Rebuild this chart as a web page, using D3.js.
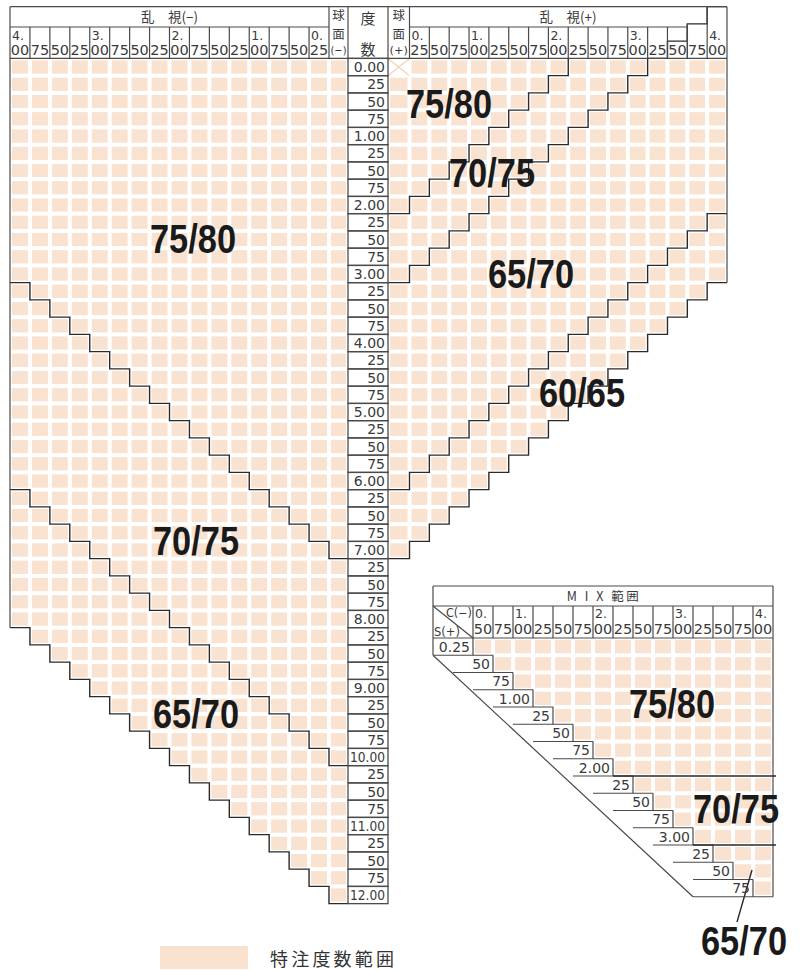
<!DOCTYPE html>
<html><head><meta charset="utf-8">
<script src="https://cdn.jsdelivr.net/npm/d3@7"></script>
<style>body{margin:0;background:#fff}svg{display:block}</style>
</head><body>
<svg id="c" width="804" height="970"></svg>
<script>
// ---------------- DATA ----------------
const sphValues = [0,0.25,0.5,0.75,1,1.25,1.5,1.75,2,2.25,2.5,2.75,3,3.25,3.5,3.75,4,4.25,4.5,4.75,5,5.25,5.5,5.75,6,6.25,6.5,6.75,7,7.25,7.5,7.75,8,8.25,8.5,8.75,9,9.25,9.5,9.75,10,10.25,10.5,10.75,11,11.25,11.5,11.75,12];
const sphLabels = ["0.00","25","50","75","1.00","25","50","75","2.00","25","50","75","3.00","25","50","75","4.00","25","50","75","5.00","25","50","75","6.00","25","50","75","7.00","25","50","75","8.00","25","50","75","9.00","25","50","75","10.00","25","50","75","11.00","25","50","75","12.00"];
const leftCylValues = [4,3.75,3.5,3.25,3,2.75,2.5,2.25,2,1.75,1.5,1.25,1,0.75,0.5,0.25];
const leftCylLabels = ["4.00","75","50","25","3.00","75","50","25","2.00","75","50","25","1.00","75","50","0.25"];
const rightCylValues = [0.25,0.5,0.75,1,1.25,1.5,1.75,2,2.25,2.5,2.75,3,3.25,3.5,3.75,4];
const rightCylLabels = ["0.25","50","75","1.00","25","50","75","2.00","25","50","75","3.00","25","50","75","4.00"];
const leftZoneNames = ["75/80","70/75","65/70"];
const leftZoneMaxTotal = [7.00,10.00,12.00];     // |S|+|C| limit (minus cyl)
const rightZoneNames = ["75/80","70/75","65/70","60/65"];
const rightZoneMaxTotal = [2.00,3.00,6.00,7.00]; // S+C limit (plus cyl)
const rightZoneHeaderExt = [false,true,false,false];
const mixCValues = [0.5,0.75,1,1.25,1.5,1.75,2,2.25,2.5,2.75,3,3.25,3.5,3.75,4];
const mixCLabels = ["0.50","75","1.00","25","50","75","2.00","25","50","75","3.00","25","50","75","4.00"];
const mixSValues = [0.25,0.5,0.75,1,1.25,1.5,1.75,2,2.25,2.5,2.75,3,3.25,3.5,3.75];
const mixSLabels = ["0.25","50","75","1.00","25","50","75","2.00","25","50","75","3.00","25","50","75"];
const mixZoneNames = ["75/80","70/75","65/70"];
const mixZoneMaxS = [2.00,3.00,3.75];
const legendLabel = "特注度数範囲";

// ---------------- LAYOUT ----------------
const svg = d3.select("#c");
const FILL = "#f9e2cf", LINE = "#4a4a4a", STAIR = "#2a2a2a";
const NUMFONT = "'DejaVu Sans', sans-serif";
const JPFONT = "'Noto Sans CJK JP', sans-serif";
const BIGFONT = "'Liberation Sans', Arial, sans-serif";
const rowH = 17.25, gridTop = 58.4;
const headTop = gridTop - 3*rowH, headMid = 27;
const y = d3.scaleLinear().domain([0, 12.25]).range([gridTop, gridTop + 49*rowH]);
const xLc = d3.scaleLinear().domain([0,16]).range([10,329]);
const xRc = d3.scaleLinear().domain([0,16]).range([409.5,727]);
const dosuX0 = 348, dosuX1 = 388;

const leftCols = leftCylValues.map((c,i)=>({cyl:c, x0:xLc(i), x1:xLc(i+1), label:leftCylLabels[i]}))
  .concat([{cyl:0, x0:329, x1:dosuX0, sph:true}]);
const rightCols = [{cyl:0, x0:dosuX1, x1:409.5, sph:true}]
  .concat(rightCylValues.map((c,i)=>({cyl:c, x0:xRc(i), x1:xRc(i+1), label:rightCylLabels[i]})));

const gCells = svg.append("g");
const gLines = svg.append("g").attr("fill","none");
const gText = svg.append("g");

function cell(x0,x1,y0,y1){
  gCells.append("rect").attr("x",x0+2).attr("y",y0+2)
    .attr("width",x1-x0-4).attr("height",y1-y0-4).attr("fill",FILL);
}
function line(x1,y1,x2,y2,col,w){
  gLines.append("line").attr("x1",x1).attr("y1",y1).attr("x2",x2).attr("y2",y2)
    .attr("stroke",col||LINE).attr("stroke-width",w||1.2);
}

// ---- cells
sphValues.forEach(s=>{
  leftCols.forEach(c=>{
    if (s + c.cyl <= leftZoneMaxTotal[leftZoneMaxTotal.length-1]) cell(c.x0,c.x1,y(s),y(s+0.25));
  });
  rightCols.forEach(c=>{
    if (s + c.cyl <= rightZoneMaxTotal[rightZoneMaxTotal.length-1]) {
      if (s===0 && c.cyl===0) {
        line(c.x0+0.5,y(0)+0.5,c.x1-0.5,y(0.25)-0.5,"#f5d3b8",1.3);
        line(c.x1-0.5,y(0)+0.5,c.x0+0.5,y(0.25)-0.5,"#f5d3b8",1.3);
      } else cell(c.x0,c.x1,y(s),y(s+0.25));
    }
  });
});

// ---- stair path helper
function stair(cols, bottom, tail){
  let d = `M${cols[0].x0},${bottom(cols[0])}`;
  cols.forEach((c,i)=>{ if(i>0) d += `V${bottom(c)}`; d += `H${c.x1}`; });
  if (tail !== undefined) d += `V${tail}`;
  gLines.append("path").attr("d",d).attr("stroke",STAIR).attr("stroke-width",1.4);
}
leftZoneMaxTotal.forEach(T=>{
  stair(leftCols, c=>y(T - c.cyl + 0.25));
});
rightZoneMaxTotal.forEach((T,k)=>{
  const cols = rightCols.filter(c=> rightZoneHeaderExt[k] ? true : (T - c.cyl >= 0));
  const last = cols[cols.length-1];
  const tail = last.cyl < 4 ? y(T - (last.cyl+0.25) + 0.25) : undefined;
  stair(cols, c=>y(T - c.cyl + 0.25), tail);
});

// ---- table frame
line(10,headTop,727,headTop);
line(10,gridTop,727,gridTop);
line(10,headTop,10,y(leftZoneMaxTotal[2]-4+0.25));
line(727,headTop,727,y(rightZoneMaxTotal[3]-4+0.25));
line(10,headMid,329,headMid);
line(409.5,headMid,xRc(14),headMid);
[329,409.5].forEach(x=>line(x,headTop,x,gridTop));
line(xRc(15),headTop,xRc(15),gridTop);
for(let i=1;i<16;i++){ line(xLc(i),headMid,xLc(i),gridTop); }
for(let i=1;i<15;i++){ line(xRc(i),headMid,xRc(i),gridTop); }
line(xRc(14),y(-0.5),xRc(14),gridTop);
// 度数 column
sphValues.forEach((s,i)=>{
  gLines.append("rect").attr("x",dosuX0).attr("y",y(s)).attr("width",dosuX1-dosuX0)
    .attr("height",rowH).attr("stroke",LINE).attr("stroke-width",1.3);
  const t = gText.append("text").attr("x",dosuX1-3).attr("y",y(s)+rowH-3.5)
    .attr("text-anchor","end").attr("font-family",NUMFONT).attr("font-size",14)
    .attr("fill","#3a3a3a").text(sphLabels[i]);
  if (sphLabels[i].length>4) t.attr("textLength",35).attr("lengthAdjust","spacingAndGlyphs");
});
line(dosuX0,headTop,dosuX0,gridTop); line(dosuX1,headTop,dosuX1,gridTop);

// ---- header texts
const HS = 12.5;
function numHead(label,x0,x1,topY,botY){
  const p = label.indexOf(".");
  const bottom = p>=0 ? label.slice(p+1) : label;
  if (p>=0){
    gText.append("text").attr("x",x0+2).attr("y",topY).attr("font-family",NUMFONT)
      .attr("font-size",HS).attr("fill","#3a3a3a").text(label.slice(0,p+1));
  }
  gText.append("text").attr("x",(x0+x1)/2).attr("y",botY).attr("text-anchor","middle")
    .attr("font-family",NUMFONT).attr("font-size",HS+1).attr("fill","#3a3a3a")
    .attr("textLength",x1-x0-1.5).attr("lengthAdjust","spacingAndGlyphs").text(bottom);
}
leftCols.filter(c=>!c.sph).forEach(c=>numHead(c.label,c.x0,c.x1,39.5,55));
rightCols.filter(c=>!c.sph).forEach(c=>numHead(c.label,c.x0,c.x1,39.5,55));
function jp(txt,x,yy,size,anchor){
  return gText.append("text").attr("x",x).attr("y",yy).attr("text-anchor",anchor||"middle")
    .attr("font-family",JPFONT).attr("font-size",size).attr("fill","#3a3a3a").text(txt);
}
jp("乱　視(−)",169.5,21.5,13.5);
jp("乱　視(+)",568,21.5,13.5);
[[329,348,"(−)"],[388,409.5,"(+)"]].forEach(([a,b,s])=>{
  jp("球",(a+b)/2,20.3,12.5); jp("面",(a+b)/2,38.6,12.5);
  jp(s,(a+b)/2,53.5,11).attr("font-family",NUMFONT).attr("textLength",b-a-3).attr("lengthAdjust","spacingAndGlyphs");
});
jp("度",368,24,15); jp("数",368,55,15);

// ---- big zone labels
function big(txt,cx,by){
  gText.append("text").attr("transform",`translate(${cx},${by}) scale(0.86,1)`)
    .attr("text-anchor","middle").attr("font-family",BIGFONT).attr("font-weight","bold")
    .attr("font-size",40).attr("fill","#1a1a1a").text(txt);
}
const leftLabelPos = [[193,253],[196,555],[196,728]];
leftZoneNames.forEach((n,i)=>big(n,...leftLabelPos[i]));
const rightLabelPos = [[449,118],[492,187],[531,288],[582,407]];
rightZoneNames.forEach((n,i)=>big(n,...rightLabelPos[i]));

// ---------------- MIX ----------------
const mx = d3.scaleLinear().domain([0,15]).range([473,773]);
const my = d3.scaleLinear().domain([0,15]).range([638,638+15*rowH]);
const mixL = 433, mixTop = 586, mixMid = 606;
mixSValues.forEach((s,i)=>{
  mixCValues.forEach((c,j)=>{ if (c - s >= 0.25) cell(mx(j),mx(j+1),my(i),my(i+1)); });
});
line(mixL,mixTop,773,mixTop);
line(mixL,mixMid,773,mixMid);
line(mixL,my(0),773,my(0));
line(mixL,mixTop,mixL,my(1));
line(773,mixTop,773,my(15));
line(mixL,mixMid,mx(0),my(0));
for(let j=0;j<15;j++) line(mx(j),mixMid,mx(j),my(0));
mixSLabels.forEach((lab,i)=>{
  line(mx(i),my(i),mx(i),my(i+1));
  if (i>0) line(mx(i)-60,my(i),mx(i),my(i));
  gText.append("text").attr("x",mx(i)-3).attr("y",my(i)+rowH-3.5).attr("text-anchor","end")
    .attr("font-family",NUMFONT).attr("font-size",14).attr("fill","#3a3a3a").text(lab);
});
line(mixL,my(1),mx(14)-60,my(15));
line(mx(14)-60,my(15),773,my(15));
mixZoneMaxS.slice(0,2).forEach(S=>{
  const i = mixSValues.indexOf(S);
  line(mx(i),my(i+1),776,my(i+1),STAIR,1.4);
});
mixCLabels.forEach((lab,j)=>numHead(lab,mx(j),mx(j+1),618,634));
gText.append("text").attr("x",604).attr("y",600.5).attr("text-anchor","middle")
  .attr("font-family",JPFONT).attr("font-size",12.5).attr("fill","#3a3a3a")
  .attr("letter-spacing",2.5).text("M I X 範囲");
gText.append("text").attr("x",472).attr("y",616.5).attr("text-anchor","end")
  .attr("font-family",NUMFONT).attr("font-size",11.5).attr("fill","#3a3a3a")
  .attr("textLength",26).attr("lengthAdjust","spacingAndGlyphs").text("C(−)");
gText.append("text").attr("x",434).attr("y",636).attr("font-family",NUMFONT)
  .attr("font-size",11.5).attr("fill","#3a3a3a").attr("textLength",26)
  .attr("lengthAdjust","spacingAndGlyphs").text("S(+)");
const mixLabelPos = [[672,718],[736,823],[744,955]];
mixZoneNames.forEach((n,i)=>big(n,...mixLabelPos[i]));
line(752,870,737,922,STAIR,1.4);

// ---------------- LEGEND ----------------
svg.append("rect").attr("x",160).attr("y",946).attr("width",88).attr("height",23).attr("fill",FILL);
svg.append("text").attr("x",270).attr("y",966).attr("font-family",JPFONT).attr("font-size",18)
  .attr("letter-spacing",3.2).attr("fill","#333").text(legendLabel);
</script>
</body></html>
